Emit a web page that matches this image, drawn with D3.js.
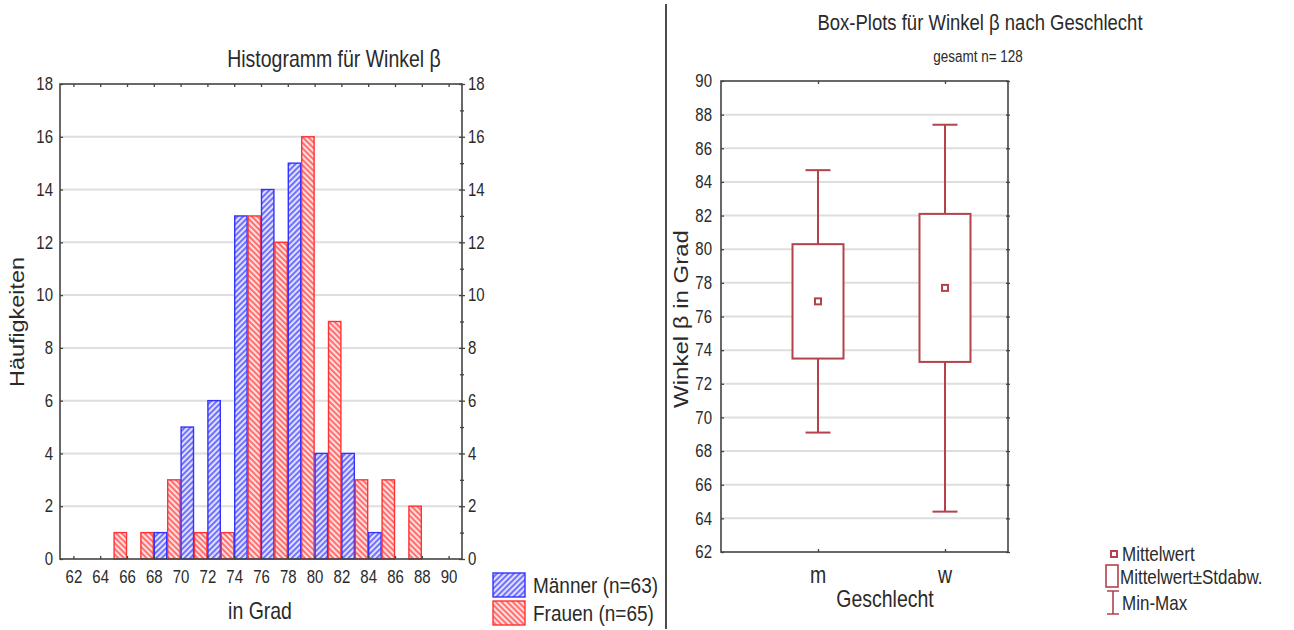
<!DOCTYPE html>
<html>
<head>
<meta charset="utf-8">
<script src="https://cdn.jsdelivr.net/npm/d3@7"></script>
<style>
  body { margin: 0; background: #fff; }
  svg text { font-family: "Liberation Sans", Arial, sans-serif; fill: #2a2a2a; }
</style>
</head>
<body>
<svg id="chart" width="1294" height="630"></svg>
<script>
// ---- Histogram: counts per 2-degree class, split by sex ----
const binCentres    = [62, 64, 66, 68, 70, 72, 74, 76, 78, 80, 82, 84, 86, 88, 90];
const maennerCounts = [0, 0, 0, 1, 5, 6, 13, 14, 15, 4, 4, 1, 0, 0, 0];
const frauenCounts  = [0, 0, 1, 1, 3, 1, 1, 13, 12, 16, 9, 3, 3, 2, 0];
const countTicks    = [0, 2, 4, 6, 8, 10, 12, 14, 16, 18];
const seriesLabels  = ["Männer (n=63)", "Frauen (n=65)"];

// ---- Box plot: mean, standard deviation, min and max per group ----
const groups   = ["m", "w"];
const means    = [76.9, 77.7];
const stdDevs  = [3.4, 4.4];
const minima   = [69.1, 64.4];
const maxima   = [84.7, 87.4];
const angleTicks = [62, 64, 66, 68, 70, 72, 74, 76, 78, 80, 82, 84, 86, 88, 90];
const boxLegend  = ["Mittelwert", "Mittelwert±Stdabw.", "Min-Max"];

const svg = d3.select("#chart");
const YS = 1.2;              // text is drawn slightly tall
const frameColor = "#444";
const gridColor = "#dedede";
const boxColor = "#b3424c";

// hatch patterns
const defs = svg.append("defs");
function hatch(id, bg, line, angle) {
  const p = defs.append("pattern").attr("id", id)
    .attr("patternUnits", "userSpaceOnUse").attr("width", 4).attr("height", 4)
    .attr("patternTransform", `rotate(${angle})`);
  p.append("rect").attr("width", 4).attr("height", 4).attr("fill", bg);
  p.append("line").attr("x1", 1).attr("y1", 0).attr("x2", 1).attr("y2", 4)
    .attr("stroke", line).attr("stroke-width", 1.6);
}
hatch("hatchBlue", "#e0e0ff", "#5555ff", 45);
hatch("hatchRed", "#ffdede", "#ff5555", -45);

function label(g, x, y, str, size, anchor, rotate) {
  const t = g.append("text")
    .attr("transform", `translate(${x},${y}) scale(1,${YS})` + (rotate ? " rotate(-90)" : ""))
    .attr("font-size", size)
    .attr("text-anchor", anchor || "start")
    .text(str);
  return t;
}

// ================= Histogram =================
const H = { left: 60, right: 462, top: 84, bottom: 559 };
const hx = d3.scaleLinear().domain([61, 91]).range([H.left, H.right]);
const hy = d3.scaleLinear().domain([0, 18]).range([H.bottom, H.top]);
const hist = svg.append("g");

// grid
hist.append("g").selectAll("line").data(countTicks.filter(d => d > 0 && d < 18)).join("line")
  .attr("x1", H.left).attr("x2", H.right)
  .attr("y1", d => hy(d)).attr("y2", d => hy(d))
  .attr("stroke", gridColor).attr("stroke-width", 2);

// bars: Frauen on the left half of each class, Männer on the right half
const barData = [];
binCentres.forEach((c, i) => {
  if (frauenCounts[i] > 0) barData.push({ x0: c - 1, x1: c, v: frauenCounts[i], s: "F" });
  if (maennerCounts[i] > 0) barData.push({ x0: c, x1: c + 1, v: maennerCounts[i], s: "M" });
});
hist.append("g").selectAll("rect").data(barData).join("rect")
  .attr("x", d => hx(d.x0) + 0.5)
  .attr("width", d => hx(d.x1) - hx(d.x0) - 1)
  .attr("y", d => hy(d.v))
  .attr("height", d => hy(0) - hy(d.v))
  .attr("fill", d => d.s === "M" ? "url(#hatchBlue)" : "url(#hatchRed)")
  .attr("stroke", d => d.s === "M" ? "#3333ff" : "#ff3333")
  .attr("stroke-width", 1.4);

// frame
hist.append("rect").attr("x", H.left).attr("y", H.top)
  .attr("width", H.right - H.left).attr("height", H.bottom - H.top)
  .attr("fill", "none").attr("stroke", frameColor).attr("stroke-width", 1.6);

function styleAxis(g) {
  g.select(".domain").remove();
  g.selectAll(".tick line").attr("stroke", frameColor).attr("stroke-width", 1.3);
  g.selectAll(".tick text").attr("transform", `scale(1,${YS})`)
    .attr("font-size", 15).attr("fill", "#2a2a2a").attr("font-family", null);
}

hist.append("g").attr("transform", `translate(${H.left},0)`)
  .call(d3.axisLeft(hy).tickValues(countTicks).tickSize(-3).tickPadding(7))
  .call(styleAxis);
hist.append("g").attr("transform", `translate(${H.right},0)`)
  .call(d3.axisRight(hy).tickValues(countTicks).tickSize(3).tickPadding(3))
  .call(styleAxis)
  .call(g => g.selectAll(".tick line").attr("x1", -3));
hist.append("g").attr("transform", `translate(${H.right},0)`)
  .call(d3.axisRight(hy).tickValues(d3.range(1, 18, 2)).tickSize(2).tickFormat(""))
  .call(styleAxis)
  .call(g => g.selectAll(".tick line").attr("x1", -2));
hist.append("g").attr("transform", `translate(0,${H.bottom})`)
  .call(d3.axisBottom(hx).tickValues(binCentres).tickSize(-3).tickPadding(9).tickFormat(d3.format("d")))
  .call(styleAxis);
hist.append("g").attr("transform", `translate(0,${H.top})`)
  .call(d3.axisTop(hx).tickValues(binCentres).tickSize(-3).tickFormat(""))
  .call(styleAxis);

label(hist, 334, 67, "Histogramm für Winkel β", 19.5, "middle");
label(hist, 24, 322, "Häufigkeiten", 19.5, "middle", true);
label(hist, 260, 619, "in Grad", 19.5, "middle");

// legend
const legFill = ["url(#hatchBlue)", "url(#hatchRed)"];
const legStroke = ["#3333ff", "#ff3333"];
seriesLabels.forEach((s, i) => {
  const y0 = 573 + i * 28;
  hist.append("rect").attr("x", 493).attr("y", y0).attr("width", 32).attr("height", 24)
    .attr("fill", legFill[i]).attr("stroke", legStroke[i]).attr("stroke-width", 1.4);
  label(hist, 533, y0 + 20, s, 19, "start");
});

// separator between the two panels
svg.append("line").attr("x1", 666).attr("x2", 666).attr("y1", 4).attr("y2", 629)
  .attr("stroke", "#111").attr("stroke-width", 1.5);

// ================= Box plot =================
const B = { left: 721, right: 1008, top: 81, bottom: 552 };
const bx = d3.scalePoint().domain(groups).range([B.left + 97, B.left + 224]);
const by = d3.scaleLinear().domain([62, 90]).range([B.bottom, B.top]);
const box = svg.append("g");

box.append("g").selectAll("line").data(angleTicks.filter(d => d > 62 && d < 90)).join("line")
  .attr("x1", B.left).attr("x2", B.right)
  .attr("y1", d => by(d)).attr("y2", d => by(d))
  .attr("stroke", gridColor).attr("stroke-width", 2);

box.append("rect").attr("x", B.left).attr("y", B.top)
  .attr("width", B.right - B.left).attr("height", B.bottom - B.top)
  .attr("fill", "none").attr("stroke", frameColor).attr("stroke-width", 1.6);

box.append("g").attr("transform", `translate(${B.left},0)`)
  .call(d3.axisLeft(by).tickValues(angleTicks).tickSize(-3).tickPadding(9))
  .call(styleAxis);
box.append("g").attr("transform", `translate(${B.right},0)`)
  .call(d3.axisRight(by).tickValues(angleTicks).tickSize(2).tickFormat(""))
  .call(styleAxis)
  .call(g => g.selectAll(".tick line").attr("x1", -2));
box.append("g").attr("transform", `translate(0,${B.top})`)
  .call(d3.axisTop(bx).tickSize(-3).tickFormat(""))
  .call(styleAxis);
box.append("g").attr("transform", `translate(0,${B.bottom})`)
  .call(d3.axisBottom(bx).tickSize(-3).tickFormat(""))
  .call(styleAxis);

const stats = groups.map((g, i) => ({ g, mean: means[i], sd: stdDevs[i], min: minima[i], max: maxima[i] }));
const bw = 51, cap = 25;
const sg = box.append("g").selectAll("g").data(stats).join("g")
  .attr("transform", d => `translate(${bx(d.g)},0)`);
sg.append("line").attr("x1", 0).attr("x2", 0)
  .attr("y1", d => by(d.max)).attr("y2", d => by(d.mean + d.sd))
  .attr("stroke", boxColor).attr("stroke-width", 2);
sg.append("line").attr("x1", 0).attr("x2", 0)
  .attr("y1", d => by(d.mean - d.sd)).attr("y2", d => by(d.min))
  .attr("stroke", boxColor).attr("stroke-width", 2);
sg.append("line").attr("x1", -cap / 2).attr("x2", cap / 2)
  .attr("y1", d => by(d.max)).attr("y2", d => by(d.max))
  .attr("stroke", boxColor).attr("stroke-width", 2);
sg.append("line").attr("x1", -cap / 2).attr("x2", cap / 2)
  .attr("y1", d => by(d.min)).attr("y2", d => by(d.min))
  .attr("stroke", boxColor).attr("stroke-width", 2);
sg.append("rect").attr("x", -bw / 2).attr("width", bw)
  .attr("y", d => by(d.mean + d.sd)).attr("height", d => by(d.mean - d.sd) - by(d.mean + d.sd))
  .attr("fill", "#fff").attr("stroke", boxColor).attr("stroke-width", 2);
sg.append("rect").attr("x", -3).attr("width", 6)
  .attr("y", d => by(d.mean) - 3).attr("height", 6)
  .attr("fill", "#fff").attr("stroke", boxColor).attr("stroke-width", 2);

groups.forEach(g => label(box, bx(g), 583, g, 19.5, "middle"));
label(box, 885, 607, "Geschlecht", 19.5, "middle");
label(box, 688, 319, "Winkel β in Grad", 20, "middle", true);
label(box, 980, 30, "Box-Plots für Winkel β nach Geschlecht", 18.5, "middle");
label(box, 978, 62, "gesamt n= 128", 13.5, "middle");

// box plot legend
const lg = box.append("g");
lg.append("rect").attr("x", 1111).attr("y", 551).attr("width", 6).attr("height", 6)
  .attr("fill", "#fff").attr("stroke", boxColor).attr("stroke-width", 2);
lg.append("rect").attr("x", 1106).attr("y", 565).attr("width", 12).attr("height", 22)
  .attr("fill", "#fff").attr("stroke", boxColor).attr("stroke-width", 1.6);
lg.append("path").attr("d", "M1107,591H1119M1113,591V614M1107,614H1119")
  .attr("fill", "none").attr("stroke", boxColor).attr("stroke-width", 1.6);
label(lg, 1122, 561, boxLegend[0], 17, "start");
label(lg, 1120, 584, boxLegend[1], 17, "start");
label(lg, 1122, 610, boxLegend[2], 17, "start");
</script>
</body>
</html>
